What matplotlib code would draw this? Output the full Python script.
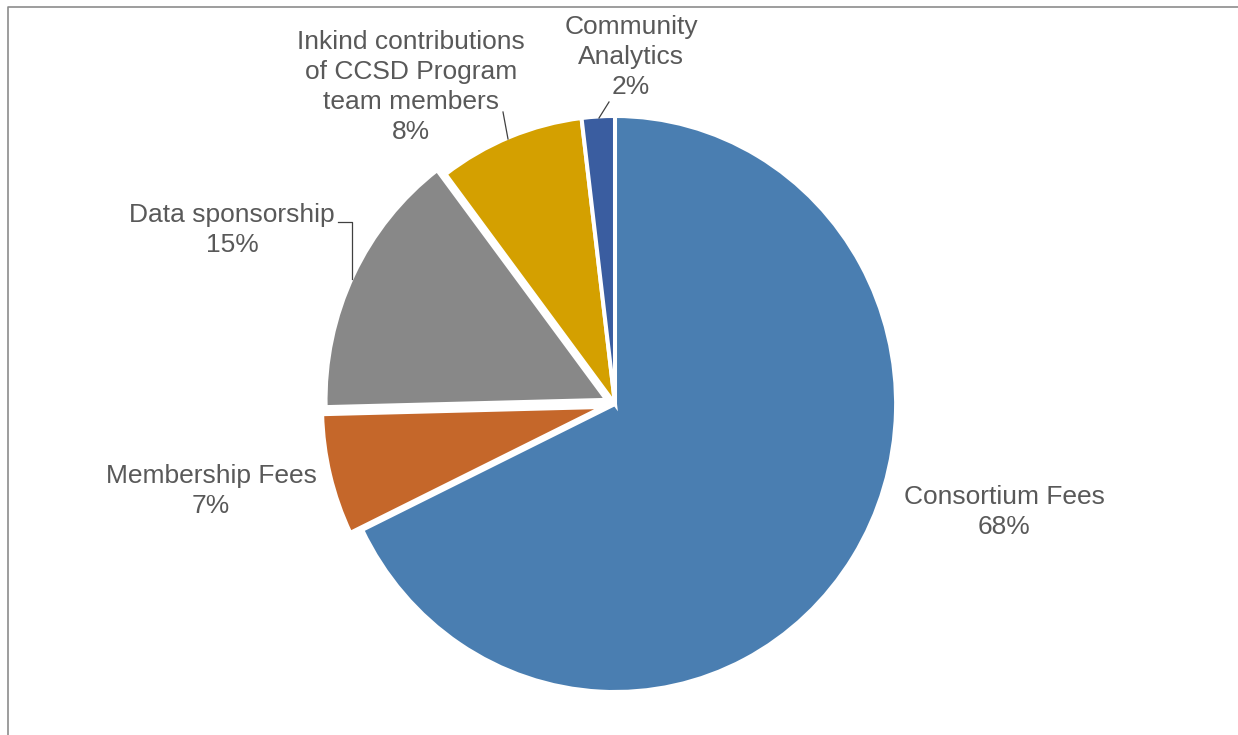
import matplotlib
matplotlib.use('Agg')
import matplotlib.pyplot as plt
from matplotlib.lines import Line2D

plt.rcParams['font.family'] = ['Liberation Sans', 'DejaVu Sans']

# data (shares in %, shown rounded)
names = ['Consortium Fees', 'Membership Fees', 'Data sponsorship',
         'Inkind contributions\nof CCSD Program\nteam members',
         'Community\nAnalytics']
shares = [67.8, 6.8, 15.1, 8.4, 1.9]
colors = ['#4A7EB1', '#C5672A', '#888888', '#D4A000', '#3A5DA0']
explode = [0, 12.5, 9.5, 0, 0]  # pie explode is in data units here (pixels)

# label block centres and leader lines, in picture pixels
label_xy = [(1004, 512), (211, 491), (232, 230), (411, 87), (631, 57)]
leaders = [None, None,
           [(338, 222), (352, 222), (352, 279)],
           [(503, 112), (508, 139)],
           [(609, 102), (599, 118)]]

W, H = 1238, 735
S = 0.976  # the reference is a bit squashed sideways


def to_data(x, y):
    return x / S, H - y


fig = plt.figure(figsize=(W / 100, H / 100), dpi=100)
ax = fig.add_axes([0, 0, 1, 1])

cx, cy = to_data(615, 404)
ax.pie(shares, colors=colors, startangle=90, counterclock=False,
       explode=explode, center=(cx, cy), radius=288, frame=True,
       wedgeprops=dict(edgecolor='white', linewidth=2.9))
ax.set_xlim(0, W / S)
ax.set_ylim(0, H)
ax.set_aspect('auto')
ax.axis('off')

for name, share, (x, y), lead in zip(names, shares, label_xy, leaders):
    tx, ty = to_data(x, y)
    ax.text(tx, ty, f'{name}\n{share:.0f}%', ha='center', va='center',
            multialignment='center', fontsize=19, color='#595959',
            linespacing=1.3)
    if lead:
        pts = [to_data(px, py) for px, py in lead]
        ax.plot([p[0] for p in pts], [p[1] for p in pts],
                color='#404040', lw=0.9)

# chart frame, cut off at the right and bottom like the screenshot
fig.add_artist(Line2D([7.5 / W, 7.5 / W, 1.01], [-0.01, 1 - 6.5 / H, 1 - 6.5 / H],
                      transform=fig.transFigure, color='#8C8C8C', lw=1.2))

fig.savefig('out.png', dpi=100)
